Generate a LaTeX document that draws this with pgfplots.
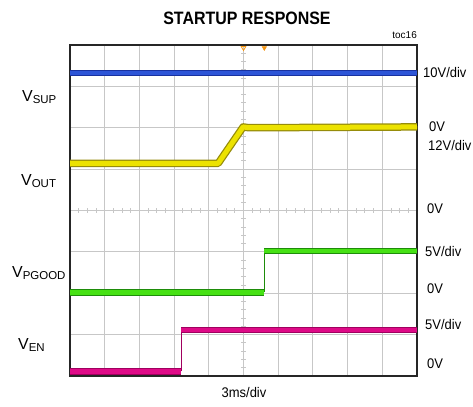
\documentclass[border=0pt]{standalone}
\usepackage{pgfplots}
\pgfplotsset{compat=1.18}
\usepackage{fontspec}
\setmainfont{Liberation Sans}
\definecolor{tblue}{RGB}{45,85,215}
\definecolor{tblueE}{RGB}{25,50,160}
\definecolor{tyel}{RGB}{236,226,0}
\definecolor{tyelE}{RGB}{150,140,10}
\definecolor{tgrn}{RGB}{70,225,20}
\definecolor{tgrnE}{RGB}{30,140,10}
\definecolor{tmag}{RGB}{222,10,135}
\definecolor{tmagE}{RGB}{160,0,95}
\definecolor{torange}{RGB}{245,150,20}
\newcommand\vlbl[1]{{\fontsize{16}{18}\selectfont V}\raisebox{-2bp}{\fontsize{11.5}{12}\selectfont #1}}
\newcommand\rl[1]{\scalebox{0.93}[1]{#1}}
\begin{document}
\begin{tikzpicture}
\begin{axis}[name=ax, scale only axis, width=347bp, height=331bp,
  xmin=0, xmax=10, ymin=0, ymax=8,
  xtick={0,...,10}, ytick={0,...,8},
  xticklabels={}, yticklabels={},
  major tick length=0pt,
  grid=major, major grid style={color=black!22, line width=0.9bp},
  axis line style={black!85, line width=1.3bp},
  clip mode=individual]
% center graticule minor ticks
\pgfplotsinvokeforeach{1,...,39}{\draw[black!22, line width=0.9bp] (axis cs:#1/4,3.94) -- (axis cs:#1/4,4.06);}
\pgfplotsinvokeforeach{1,...,39}{\draw[black!22, line width=0.9bp] (axis cs:4.93,#1/5) -- (axis cs:5.07,#1/5);}
% VSUP (blue)
\addplot[tblueE, line width=6bp, forget plot] coordinates {(0,7.33) (10,7.33)};
\addplot[tblue, line width=4.4bp, forget plot] coordinates {(0,7.33) (10,7.33)};
% VOUT (yellow)
\addplot[tyelE, line width=7.5bp, line join=round, forget plot] coordinates {(0,5.14) (4.27,5.14) (4.99,6.02) (5.15,6.0) (10,6.02)};
\addplot[tyel, line width=5bp, line join=round, forget plot] coordinates {(0,5.14) (4.27,5.14) (4.99,6.02) (5.15,6.0) (10,6.02)};
% VPGOOD (green)
\addplot[tgrnE, line width=1bp, forget plot] coordinates {(5.6,2.02) (5.6,3.02)};
\addplot[tgrnE, line width=6.5bp, forget plot] coordinates {(0,2.02) (5.6,2.02)};
\addplot[tgrn, line width=4.4bp, forget plot] coordinates {(0,2.02) (5.6,2.02)};
\addplot[tgrnE, line width=6.5bp, forget plot] coordinates {(5.6,3.02) (10,3.02)};
\addplot[tgrn, line width=4.4bp, forget plot] coordinates {(5.6,3.02) (10,3.02)};
% VEN (magenta)
\addplot[tmagE, line width=1bp, forget plot] coordinates {(3.2,0.11) (3.2,1.11)};
\addplot[tmagE, line width=6.5bp, forget plot] coordinates {(0,0.11) (3.2,0.11)};
\addplot[tmag, line width=4.8bp, forget plot] coordinates {(0,0.11) (3.2,0.11)};
\addplot[tmagE, line width=6.5bp, forget plot] coordinates {(3.2,1.11) (10,1.11)};
\addplot[tmag, line width=4.8bp, forget plot] coordinates {(3.2,1.11) (10,1.11)};
% trigger markers
\addplot[only marks, mark=triangle, mark size=2.6bp, mark options={rotate=180, torange, line width=0.8bp}] coordinates {(5,7.93)};
\addplot[only marks, mark=triangle*, mark size=2.6bp, mark options={rotate=180, torange}] coordinates {(5.6,7.93)};
\end{axis}
\begin{scope}[shift={(ax.south west)}]
\node[font=\bfseries\fontsize{18}{20}\selectfont] at (177bp,358bp) {\scalebox{0.89}[1]{STARTUP RESPONSE}};
\node[anchor=east, font=\fontsize{10}{12}\selectfont, inner sep=0pt] at (347bp,341bp) {toc16};
\node[font=\fontsize{14}{16}\selectfont] at (174bp,-17bp) {\rl{3ms/div}};
\begin{scope}[every node/.style={anchor=west, inner sep=0pt, font=\fontsize{14}{16}\selectfont}]
\node at (353bp,303bp) {\rl{10V/div}};
\node at (359bp,249bp) {\rl{0V}};
\node at (358bp,230bp) {\rl{12V/div}};
\node at (357bp,167bp) {\rl{0V}};
\node at (355bp,124bp) {\rl{5V/div}};
\node at (357bp,87bp) {\rl{0V}};
\node at (355bp,51bp) {\rl{5V/div}};
\node at (357bp,12bp) {\rl{0V}};
\end{scope}
\begin{scope}[every node/.style={anchor=west, inner sep=0pt}]
\node at (-48bp,279bp) {\vlbl{SUP}};
\node at (-49bp,195bp) {\vlbl{OUT}};
\node at (-58bp,103bp) {\vlbl{PGOOD}};
\node at (-52bp,31bp) {\vlbl{EN}};
\end{scope}
\end{scope}
\pgfresetboundingbox
\path[use as bounding box] (ax.south west) ++(-70bp,-31bp) rectangle ++(473bp,407bp);
\end{tikzpicture}
\end{document}
